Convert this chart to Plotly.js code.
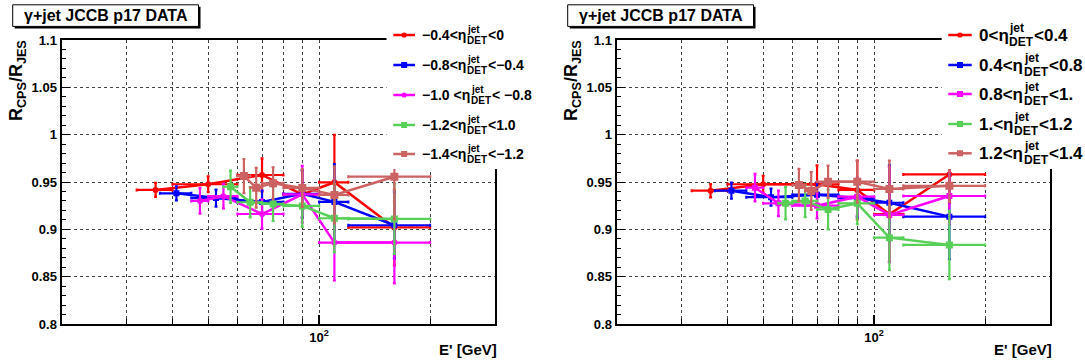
<!DOCTYPE html>
<html><head><meta charset="utf-8">
<script src="https://cdn.plot.ly/plotly-3.0.1.min.js"></script>
<style>html,body{margin:0;padding:0;background:#fff}#chart{width:1085px;height:362px}</style>
</head><body><div id="chart"></div>
<script>
// ---------- data (E' in GeV, ratio R_CPS/R_JES) ----------
const xRed   = [36, 50, 70, 90, 110, 160];
const exRed  = [4, 10, 10, 10, 10, 40];
const xBlue  = [41, 52.5, 70, 90, 110, 160];
const exBlue = [4, 7.5, 10, 10, 10, 40];
const xMag   = [47.5, 55, 70, 90, 110, 160];
const exMag  = [2.5, 5, 10, 10, 10, 40];
const xGreen = [57.5, 65, 75, 90, 110, 160];
const exGreen= [2.5, 5, 5, 10, 10, 40];
const xBrown = [62.5, 67.5, 75, 90, 110, 160];
const exBrown= [2.5, 2.5, 5, 10, 10, 40];

// left panel: negative eta
const yRedL   = [0.9416, 0.9476, 0.9574, 0.937, 0.9497, 0.902];
const eyRedL  = [0.0074, 0.0083, 0.0176, 0.025, 0.05, 0.04];
const yBlueL  = [0.938, 0.933, 0.929, 0.9376, 0.929, 0.9043];
const eyBlueL = [0.0075, 0.009, 0.012, 0.025, 0.04, 0.035];
const yMagL   = [0.930, 0.935, 0.9162, 0.937, 0.886, 0.886];
const eyMagL  = [0.0135, 0.013, 0.0155, 0.03, 0.04, 0.043];
const yGreenL = [0.945, 0.9286, 0.9268, 0.9247, 0.9117, 0.911];
const eyGreenL= [0.017, 0.016, 0.018, 0.022, 0.036, 0.037];
const yBrownL = [0.9563, 0.944, 0.9486, 0.9437, 0.9363, 0.9556];
const eyBrownL= [0.018, 0.021, 0.017, 0.02, 0.03, 0.045];

// right panel: positive eta
const yRedR   = [0.9408, 0.9476, 0.9475, 0.9416, 0.916, 0.958];
const eyRedR  = [0.007, 0.009, 0.02, 0.031, 0.05, 0.03];
const yBlueR  = [0.9408, 0.934, 0.9366, 0.933, 0.9281, 0.9134];
const eyBlueR = [0.0085, 0.009, 0.013, 0.02, 0.04, 0.045];
const yMagR   = [0.944, 0.9275, 0.925, 0.9345, 0.9152, 0.9352];
const eyMagR  = [0.0145, 0.0135, 0.0135, 0.02, 0.05, 0.03];
const yGreenR = [0.9275, 0.93, 0.921, 0.9275, 0.8912, 0.8835];
const eyGreenR= [0.017, 0.017, 0.021, 0.022, 0.034, 0.036];
const yBrownR = [0.9468, 0.9405, 0.9503, 0.9503, 0.9426, 0.946];
const eyBrownR= [0.017, 0.02, 0.017, 0.022, 0.03, 0.017];

// legend labels: [before, sup, sub, after]
const legendL = [["−0.4<η","jet","DET","<0"],["−0.8<η","jet","DET","<−0.4"],["−1.0 <η","jet","DET","< −0.8"],["−1.2<η","jet","DET","<1.0"],["−1.4<η","jet","DET","<−1.2"]];
const legendR = [["0<η","jet","DET","<0.4"],["0.4<η","jet","DET","<0.8"],["0.8<η","jet","DET","<1."],["1.<η","jet","DET","<1.2"],["1.2<η","jet","DET","<1.4"]];
const titleText = "γ+jet JCCB p17 DATA";
const yTitle = "R<sub>CPS</sub>/R<sub>JES</sub>";
const xTitle = "E' [GeV]";
const yTicks = [0.8, 0.85, 0.9, 0.95, 1, 1.05, 1.1];
const yTickText = ["0.8","0.85","0.9","0.95","1","1.05","1.1"];
const xMajor = [100];
const xMajorText = ["10<sup>2</sup>"];
const xMinor = [20,30,40,50,60,70,80,90,200,300];

// ---------- styles ----------
const colors = ["#ff0000","#0000ff","#ff00ff","#58d058","#cc6262"];
const symL = ["circle","square","circle","square","square"];
const symR = ["circle","square","square","square","square"];
const sizes = [6,6,6,7,8];

const W=1085,H=362;
const FONT='"Liberation Sans", Arial, sans-serif';
const px = x => x/W, py = y => 1 - y/H;

function tr(x,ex,y,ey,i,sym,xa,ya){
  const c=colors[i];
  return {type:'scatter',mode:'lines+markers',x:x,y:y,xaxis:xa,yaxis:ya,
    line:{color:c,width:2.5},marker:{color:c,symbol:sym,size:sizes[i]},
    error_x:{type:'data',array:ex,color:c,thickness:2.2,width:1.5},
    error_y:{type:'data',array:ey,color:c,thickness:2.2,width:1.5},
    showlegend:false,hoverinfo:'skip'};
}
const X=[xRed,xBlue,xMag,xGreen,xBrown], EX=[exRed,exBlue,exMag,exGreen,exBrown];
const YL=[yRedL,yBlueL,yMagL,yGreenL,yBrownL], EYL=[eyRedL,eyBlueL,eyMagL,eyGreenL,eyBrownL];
const YR=[yRedR,yBlueR,yMagR,yGreenR,yBrownR], EYR=[eyRedR,eyBlueR,eyMagR,eyGreenR,eyBrownR];
const data=[];
for(let i=0;i<5;i++) data.push(tr(X[i],EX[i],YL[i],EYL[i],i,symL[i],'x','y'));
for(let i=0;i<5;i++) data.push(tr(X[i],EX[i],YR[i],EYR[i],i,symR[i],'x2','y2'));

const plotL=61.5, plotR=495, plotT=40, plotB=324, OFF=555;

function xax(l,r,anchor){
  return {type:'log',domain:[px(l),px(r)],anchor:anchor,range:[Math.log10(20),Math.log10(300)],
    tickmode:'array',tickvals:xMajor,ticktext:xMajorText,ticks:'inside',ticklen:9,tickwidth:1.5,tickcolor:'#000',
    minor:{tickmode:'array',tickvals:xMinor,ticks:'inside',ticklen:5,tickwidth:1,tickcolor:'#000',
      showgrid:true,gridcolor:'#444',griddash:'dot',gridwidth:1},
    showline:true,linecolor:'#000',linewidth:2,mirror:true,
    showgrid:true,gridcolor:'#444',griddash:'dot',gridwidth:1,zeroline:false,
    tickfont:{family:FONT,size:13,color:'#000',weight:'bold'}};
}
function yax(anchor){
  return {domain:[py(plotB),py(plotT)],anchor:anchor,range:[0.8,1.1],
    tickmode:'array',tickvals:yTicks,ticktext:yTickText,ticks:'inside',ticklen:8,tickwidth:1,tickcolor:'#000',
    minor:{dtick:0.01,tick0:0.8,ticks:'inside',ticklen:4,tickcolor:'#000',showgrid:false},
    showline:true,linecolor:'#000',linewidth:2,mirror:true,
    showgrid:true,gridcolor:'#444',griddash:'dot',gridwidth:1,zeroline:false,
    tickfont:{family:FONT,size:13,color:'#000',weight:'bold'}};
}

const shapes=[], ann=[];
const cv=document.createElement('canvas').getContext('2d');
function tw(t,s){cv.font='bold '+s+'px "Liberation Sans"';return cv.measureText(t).width;}
const yTitleIdx=[];
const yTitleCenter={x:18,y:80};

function panelDeco(off, legend, syms, legX0, lineX0, lineX1, rows, fs){
  // title box with shadow
  shapes.push({type:'rect',xref:'paper',yref:'paper',x0:px(14.7+off),x1:px(200.5+off),y0:py(28.4),y1:py(6.8),fillcolor:'#000',line:{width:0},layer:'above'});
  shapes.push({type:'rect',xref:'paper',yref:'paper',x0:px(12.7+off),x1:px(198.5+off),y0:py(26.4),y1:py(4.8),fillcolor:'#fff',line:{color:'#000',width:1},layer:'above'});
  ann.push({xref:'paper',yref:'paper',x:px(105.6+off),y:py(15.8),xanchor:'center',yanchor:'middle',showarrow:false,
    text:'<b>'+titleText+'</b>',font:{family:FONT,size:16,color:'#000'}});
  // legend white box
  shapes.push({type:'rect',xref:'paper',yref:'paper',x0:px(legX0),x1:px(Math.min(legX0+200,off+545)),y0:py(169),y1:py(18),fillcolor:'#fff',line:{width:0},layer:'above'});
  for(let i=0;i<5;i++){
    const yc=rows[i], c=colors[i];
    shapes.push({type:'line',xref:'paper',yref:'paper',x0:px(lineX0),x1:px(lineX1),y0:py(yc),y1:py(yc),line:{color:c,width:2.5},layer:'above'});
    const mx=(lineX0+lineX1)/2, ms=(syms[i]==='circle'?2.6:3);
    shapes.push({type:syms[i]==='circle'?'circle':'rect',xref:'paper',yref:'paper',x0:px(mx-ms),x1:px(mx+ms),y0:py(yc+ms),y1:py(yc-ms),fillcolor:c,line:{width:0},layer:'above'});
    const p=legend[i]; const ss=Math.round(fs*0.72);
    let x=lineX1+6;
    ann.push({xref:'paper',yref:'paper',x:px(x),y:py(yc),xanchor:'left',yanchor:'middle',showarrow:false,borderpad:0,
      text:'<b>'+p[0]+'</b>',font:{family:FONT,size:fs,color:'#000'}});
    x+=tw(p[0],fs)+1;
    ann.push({xref:'paper',yref:'paper',x:px(x),y:py(yc-fs*0.42),xanchor:'left',yanchor:'middle',showarrow:false,borderpad:0,
      text:'<b>'+p[1]+'</b>',font:{family:FONT,size:ss,color:'#000'}});
    ann.push({xref:'paper',yref:'paper',x:px(x),y:py(yc+fs*0.42),xanchor:'left',yanchor:'middle',showarrow:false,borderpad:0,
      text:'<b>'+p[2]+'</b>',font:{family:FONT,size:ss,color:'#000'}});
    x+=Math.max(tw(p[1],ss),tw(p[2],ss))+1;
    ann.push({xref:'paper',yref:'paper',x:px(x),y:py(yc),xanchor:'left',yanchor:'middle',showarrow:false,borderpad:0,
      text:'<b>'+p[3]+'</b>',font:{family:FONT,size:fs,color:'#000'}});
  }
  // axis titles
  yTitleIdx.push({idx:ann.length,off:off});
  ann.push({xref:'paper',yref:'paper',x:px(yTitleCenter.x+off),y:py(yTitleCenter.y),xanchor:'center',yanchor:'middle',showarrow:false,textangle:-90,borderpad:0,
    text:'<b>'+yTitle+'</b>',font:{family:FONT,size:18,color:'#000'}});
  ann.push({xref:'paper',yref:'paper',x:px(plotR+3+off),y:py(349),xanchor:'right',yanchor:'middle',showarrow:false,borderpad:0,
    text:'<b>'+xTitle+'</b>',font:{family:FONT,size:15,color:'#000'}});
}
panelDeco(0, legendL, symL, 386.5, 393.3, 415, [35,65,95,125,154], 14);
panelDeco(OFF, legendR, symR, 941.7, 948.3, 971.7, [35,65,94,124,153.3], 17);

const layout={width:W,height:H,margin:{l:0,r:0,t:0,b:0},paper_bgcolor:'#fff',plot_bgcolor:'#fff',showlegend:false,
  font:{family:FONT,color:'#000'},
  xaxis:xax(plotL,plotR,'y'), yaxis:yax('x'),
  xaxis2:xax(plotL+OFF,plotR+OFF,'y2'), yaxis2:yax('x2'),
  shapes:shapes, annotations:ann};
Plotly.newPlot('chart',data,layout,{staticPlot:true,displayModeBar:false}).then(function(gd){
  // correct rotated y-title placement using its rendered box
  const root=gd.getBoundingClientRect();
  const nodes=gd.querySelectorAll('.annotation');
  const upd={};
  yTitleIdx.forEach(function(t){
    const node=nodes[t.idx]; if(!node) return;
    const g=node.querySelector('.annotation-text-g')||node;
    const r=g.getBoundingClientRect();
    const cx=r.left+r.width/2-root.left, cy=r.top+r.height/2-root.top;
    const dx=(yTitleCenter.x+t.off)-cx, dy=yTitleCenter.y-cy;
    upd['annotations['+t.idx+'].x']=px(yTitleCenter.x+t.off+dx);
    upd['annotations['+t.idx+'].y']=py(yTitleCenter.y+dy);
  });
  return Plotly.relayout(gd,upd);
});
</script></body></html>
